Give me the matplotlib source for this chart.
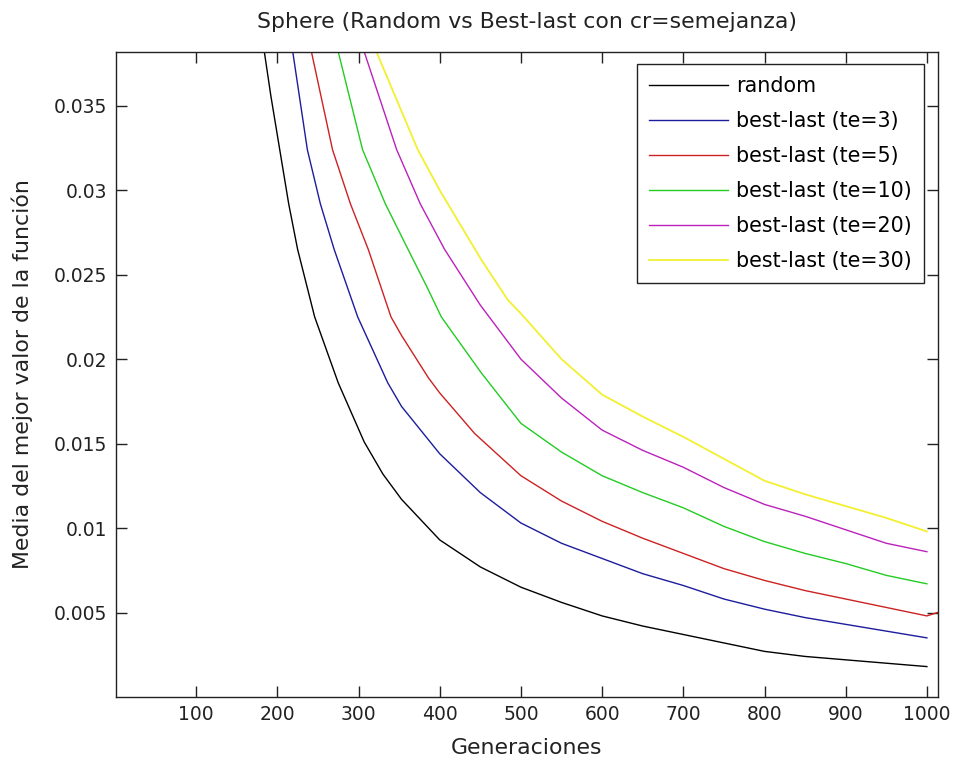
import matplotlib
matplotlib.use("Agg")
import matplotlib.pyplot as plt

# values
x_random = [184, 192, 203, 214, 225, 246, 275, 307, 330, 353, 400, 450, 500, 550, 600, 650, 700, 750, 800, 850, 900,
            950, 1000]
y_random = [0.0382, 0.0356, 0.0324, 0.0292, 0.0265, 0.0225, 0.0186, 0.0151, 0.0132, 0.0117, 0.0093, 0.0077, 0.0065,
            0.0056, 0.0048, 0.0042, 0.0037, 0.0032, 0.0027, 0.0024, 0.0022, 0.0020, 0.0018]

x_te3 = [219, 237, 253, 270, 299, 336, 353, 400, 450, 500, 550, 600, 650, 700, 750, 800, 850, 900, 950, 1000]
y_te3 = [0.0382, 0.0324, 0.0292, 0.0265, 0.0225, 0.0186, 0.0172, 0.0144, 0.0121, 0.0103, 0.0091, 0.0082, 0.0073,
         0.0066, 0.0058, 0.0052, 0.0047, 0.0043, 0.0039, 0.0035]

x_te5 = [242, 268, 290, 312, 340, 353, 386, 400, 443, 500, 550, 600, 650, 700, 750, 800, 850, 900, 950, 1000, 1013]
y_te5 = [0.0382, 0.0324, 0.0292, 0.0265, 0.0225, 0.0214, 0.0189, 0.0180, 0.0156, 0.0131, 0.0116, 0.0104, 0.0094,
         0.0085, 0.0076, 0.0069, 0.0063, 0.0058, 0.0053, 0.0048, 0.0050]

x_te10 = [275, 305, 333, 361, 384, 402, 451, 500, 550, 600, 650, 700, 750, 800, 850, 900, 950, 1000]
y_te10 = [0.0382, 0.0324, 0.0292, 0.0265, 0.0243, 0.0225, 0.0192, 0.0162, 0.0145, 0.0131, 0.0121, 0.0112, 0.0101,
          0.0092, 0.0085, 0.0079, 0.0072, 0.0067]

x_te20 = [307, 347, 376, 406, 450, 500, 550, 600, 650, 700, 750, 800, 850, 900, 950, 1000]
y_te20 = [0.0382, 0.0324, 0.0292, 0.0265, 0.0232, 0.0200, 0.0177, 0.0158, 0.0146, 0.0136, 0.0124, 0.0114, 0.0107,
          0.0099, 0.0091, 0.0086]

x_te30 = [322, 373, 400, 451, 484, 500, 550, 600, 650, 700, 750, 800, 850, 900, 950, 1000]
y_te30 = [0.0382, 0.0324, 0.0300, 0.0259, 0.0235, 0.0227, 0.0200, 0.0179, 0.0166, 0.0154, 0.0141, 0.0128, 0.0120,
          0.0113, 0.0106, 0.0098]

labels = ['random', 'best-last (te=3)', 'best-last (te=5)', 'best-last (te=10)',
          'best-last (te=20)', 'best-last (te=30)']
colors = ['#000000', '#1c1c9c', '#cc2222', '#22cc22', '#bb22bb', '#f2f030']

x_ticks = [100, 200, 300, 400, 500, 600, 700, 800, 900, 1000]
y_ticks = [0.005, 0.01, 0.015, 0.02, 0.025, 0.03, 0.035]
y_ticklabels = ['0.005', '0.01', '0.015', '0.02', '0.025', '0.03', '0.035']

plt.rcParams['font.family'] = ['DejaVu Sans']
TICK_FS = 13.5
LABEL_FS = 15.8
LEG_FS = 14.9
TXT = '#222222'

fig = plt.figure(figsize=(9.58, 7.65), dpi=100)
ax = fig.add_axes([0.1208, 0.0889, 0.9794 - 0.1208, 0.9324 - 0.0889])

series = [(x_random, y_random), (x_te3, y_te3), (x_te5, y_te5),
          (x_te10, y_te10), (x_te20, y_te20), (x_te30, y_te30)]
for (xs, ys), lab, col in zip(series, labels, colors):
    lw = 1.3 if lab.endswith('30)') else 1.0
    ax.plot(xs, ys, color=col, lw=lw, label=lab)

ax.set_xlim(1, 1014)
ax.set_ylim(0, 0.0382)
ax.set_xticks(x_ticks)
ax.set_yticks(y_ticks)
ax.set_yticklabels(y_ticklabels)
ax.tick_params(direction='in', length=8, width=1, top=True, right=True,
               labelsize=TICK_FS, pad=6, colors=TXT)
for s in ax.spines.values():
    s.set_linewidth(1.0)
    s.set_color(TXT)

ax.set_title('Sphere (Random vs Best-last con cr=semejanza)', fontsize=LABEL_FS, pad=17, color=TXT)
ax.set_xlabel('Generaciones', fontsize=LABEL_FS, color=TXT, labelpad=10)
ax.set_ylabel('Media del mejor valor de la función', fontsize=LABEL_FS, color=TXT, labelpad=15)

leg = ax.legend(loc='upper right', bbox_to_anchor=(924 / 958, 1 - 64 / 765),
                bbox_transform=fig.transFigure, fontsize=LEG_FS, frameon=True, fancybox=False,
                framealpha=1, edgecolor=TXT, handlelength=3.8, handletextpad=0.4,
                labelspacing=0.72, borderpad=0.6, borderaxespad=0)
leg.get_frame().set_linewidth(1.0)

fig.savefig('out.png', dpi=100, facecolor='white')
